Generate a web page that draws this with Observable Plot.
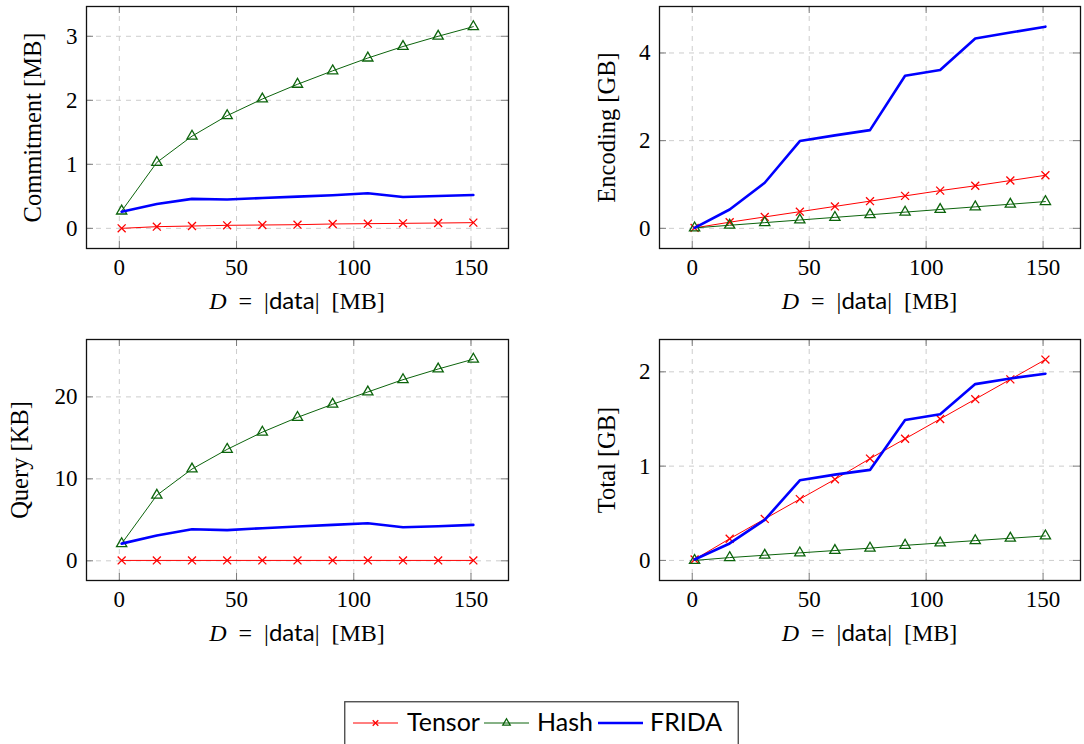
<!DOCTYPE html>
<html><head><meta charset="utf-8">
<script src="https://cdn.jsdelivr.net/npm/d3@7"></script>
<script src="https://cdn.jsdelivr.net/npm/@observablehq/plot@0.6"></script>
<style>
body{margin:0;background:#fff;overflow:hidden;}
#root{position:relative;width:1084px;height:744px;overflow:hidden;background:#fff;}
.panel{position:absolute;}
.panel text{font-family:'Liberation Serif', serif !important;}
#legend{position:absolute;left:344px;top:701px;}
</style></head><body><div id="root"></div>
<script>
// data sizes D = |data| [MB]
const sizes = [1, 16, 31, 46, 61, 76, 91, 106, 121, 136, 151];
const xTicks = [0, 50, 100, 150];
const seriesNames = ["Tensor", "Hash", "FRIDA"];

// Commitment [MB]
const commitTensor = [0.0, 0.026, 0.036, 0.047, 0.052, 0.057, 0.068, 0.073, 0.078, 0.083, 0.089];
const commitHash   = [0.27, 1.03, 1.44, 1.76, 2.02, 2.25, 2.46, 2.66, 2.84, 3.00, 3.15];
const commitFrida  = [0.26, 0.38, 0.46, 0.45, 0.474, 0.495, 0.516, 0.547, 0.49, 0.505, 0.52];
const commitTicks  = [0, 1, 2, 3];

// Encoding [GB]
const encTensor = [0.01, 0.14, 0.26, 0.38, 0.50, 0.62, 0.74, 0.86, 0.97, 1.09, 1.21];
const encHash   = [0.01, 0.07, 0.13, 0.19, 0.25, 0.31, 0.37, 0.43, 0.49, 0.55, 0.61];
const encFrida  = [0.01, 0.43, 1.04, 1.99, 2.12, 2.24, 3.48, 3.61, 4.33, 4.465, 4.60];
const encTicks  = [0, 2, 4];

// Query [KB]
const queryTensor = [0.05, 0.05, 0.05, 0.05, 0.05, 0.05, 0.05, 0.05, 0.05, 0.05, 0.05];
const queryHash   = [2.1, 8.0, 11.2, 13.6, 15.7, 17.5, 19.1, 20.6, 22.1, 23.4, 24.6];
const queryFrida  = [2.1, 3.1, 3.85, 3.75, 3.98, 4.18, 4.38, 4.58, 4.1, 4.22, 4.38];
const queryTicks  = [0, 10, 20];

// Total [GB]
const totalTensor = [0.01, 0.23, 0.44, 0.65, 0.86, 1.08, 1.29, 1.50, 1.71, 1.92, 2.13];
const totalHash   = [0.0, 0.03, 0.055, 0.08, 0.105, 0.13, 0.16, 0.185, 0.21, 0.235, 0.26];
const totalFrida  = [0.01, 0.18, 0.43, 0.85, 0.91, 0.96, 1.49, 1.55, 1.87, 1.93, 1.98];
const totalTicks  = [0, 1, 2];

const RED = "#ff0000", GREEN = "#0c640c", BLUE = "#0000ff";
const SERIF = "Liberation Serif";
const SANS = "Lato";
const root = document.getElementById("root");

function panel(o) {
  const m = o.margin;
  const fw = o.width - m.left - m.right, fh = o.height - m.top - m.bottom;
  const rows = sizes.map((x, i) => ({x, tensor: o.tensor[i], hash: o.hash[i], frida: o.frida[i]}));
  const tickStroke = "#7a7a7a";
  const gridOpts = {stroke: "#cdcdcd", strokeOpacity: 1, strokeDasharray: "5,5", strokeWidth: 1};
  const svg = Plot.plot({
    width: o.width, height: o.height,
    marginLeft: m.left, marginRight: m.right, marginTop: m.top, marginBottom: m.bottom,
    x: {domain: [-14, 166]},
    y: {domain: o.yDomain},
    style: {fontFamily: SERIF, fontSize: "23px", background: "transparent", color: "#000", overflow: "visible"},
    marks: [
      Plot.gridX(xTicks, gridOpts),
      Plot.gridY(o.yTicks, gridOpts),
      Plot.ruleX(xTicks, {x: d => d, insetTop: fh - 7, stroke: tickStroke}),
      Plot.ruleX(xTicks, {x: d => d, insetBottom: fh - 7, stroke: tickStroke}),
      Plot.ruleY(o.yTicks, {y: d => d, insetRight: fw - 7, stroke: tickStroke}),
      Plot.ruleY(o.yTicks, {y: d => d, insetLeft: fw - 7, stroke: tickStroke}),
      Plot.axisX(xTicks, {tickSize: 0, tickPadding: 10, fontSize: 23, fontFamily: SERIF, tickFormat: d => String(d), label: null}),
      Plot.axisY(o.yTicks, {tickSize: 0, tickPadding: 9, fontSize: 23, fontFamily: SERIF, tickFormat: d => String(d), label: null}),
      Plot.line(rows, {x: "x", y: "tensor", stroke: RED, strokeWidth: 1}),
      Plot.dot(rows, {x: "x", y: "tensor", symbol: "times", r: 3.7, stroke: RED, strokeWidth: 1.3}),
      Plot.line(rows, {x: "x", y: "hash", stroke: GREEN, strokeWidth: 1}),
      Plot.dot(rows, {x: "x", y: "hash", symbol: "triangle", r: 3.8, stroke: GREEN, fill: "none", strokeWidth: 1.3}),
      Plot.line(rows, {x: "x", y: "frida", stroke: BLUE, strokeWidth: 2.6}),
      Plot.frame({stroke: "#111", strokeWidth: 1.3}),
      Plot.text([o.yLabel], {frameAnchor: "left", text: d => d, rotate: -90, dx: o.labelDx, textAnchor: "middle",
        lineAnchor: "middle", fontSize: 24.5, fontFamily: SERIF})
    ]
  });
  // x-axis label with mixed fonts: D = |data| [MB]
  const t = d3.select(svg).append("text")
    .attr("x", m.left + fw / 2).attr("y", m.top + fh + 61)
    .attr("text-anchor", "middle").attr("font-size", 24).attr("fill", "#000");
  t.append("tspan").attr("font-style", "italic").text("D");
  t.append("tspan").text("\u2002=\u2002|");
  t.append("tspan").attr("style", `font-family:${SANS}`).text("data");
  t.append("tspan").text("|\u2002[MB]");
  svg.classList.add("panel");
  svg.style.left = o.left + "px";
  svg.style.top = o.top + "px";
  root.appendChild(svg);
}

const mTop = {left: 86, right: 32, top: 6, bottom: 72};
const mTopR = {left: 99, right: 4, top: 6, bottom: 72};
const mBot = {left: 86, right: 32, top: 19, bottom: 70};
const mBotR = {left: 99, right: 4, top: 19, bottom: 70};

panel({left: 0, top: 0, width: 540, height: 320, margin: mTop, yDomain: [-0.315, 3.465], yTicks: commitTicks,
  yLabel: "Commitment [MB]", labelDx: -53, tensor: commitTensor, hash: commitHash, frida: commitFrida});
panel({left: 560, top: 0, width: 524, height: 320, margin: mTopR, yDomain: [-0.46, 5.06], yTicks: encTicks,
  yLabel: "Encoding [GB]", labelDx: -52, tensor: encTensor, hash: encHash, frida: encFrida});
panel({left: 0, top: 320, width: 540, height: 330, margin: mBot, yDomain: [-2.4, 27.0], yTicks: queryTicks,
  yLabel: "Query [KB]", labelDx: -66, tensor: queryTensor, hash: queryHash, frida: queryFrida});
panel({left: 560, top: 320, width: 524, height: 330, margin: mBotR, yDomain: [-0.213, 2.343], yTicks: totalTicks,
  yLabel: "Total [GB]", labelDx: -52, tensor: totalTensor, hash: totalHash, frida: totalFrida});

// Legend
const lg = d3.select(root).append("svg").attr("id", "legend").attr("width", 396).attr("height", 50);
lg.append("rect").attr("x", 0.75).attr("y", 0.75).attr("width", 393.5).attr("height", 60)
  .attr("fill", "#fff").attr("stroke", "#444").attr("stroke-width", 1.3);
const items = [
  {name: seriesNames[0], color: RED, sx: 9, tx: 63, sym: "times", w: 1},
  {name: seriesNames[1], color: GREEN, sx: 140, tx: 193, sym: "triangle", w: 1},
  {name: seriesNames[2], color: BLUE, sx: 254, tx: 306, sym: null, w: 2.6}
];
const ly = 22;
for (const it of items) {
  lg.append("line").attr("x1", it.sx).attr("x2", it.sx + 45).attr("y1", ly).attr("y2", ly)
    .attr("stroke", it.color).attr("stroke-width", it.w);
  if (it.sym) {
    const sym = it.sym === "times" ? d3.symbolTimes : d3.symbolTriangle;
    lg.append("path").attr("d", d3.symbol(sym, it.sym === "times" ? 22 : 24)())
      .attr("transform", `translate(${it.sx + 22.5},${ly})`)
      .attr("fill", "none").attr("stroke", it.color).attr("stroke-width", 1.3);
  }
  lg.append("text").attr("x", it.tx).attr("y", 30).attr("font-family", SANS).attr("font-size", 25)
    .attr("fill", "#000").text(it.name);
}
</script>
</body></html>
